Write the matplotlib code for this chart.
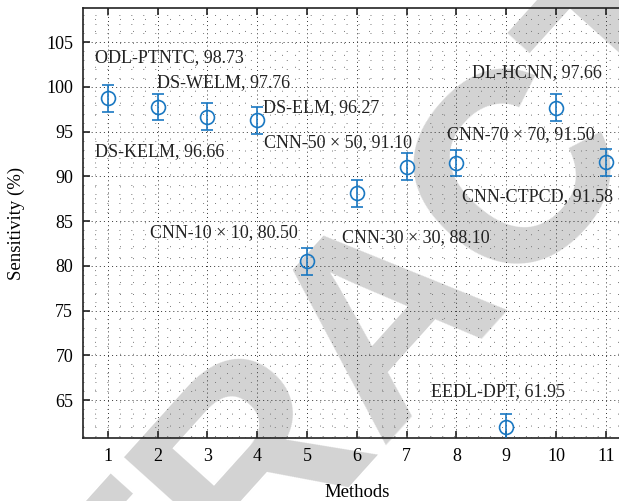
import matplotlib
matplotlib.use('Agg')
import matplotlib.pyplot as plt
from matplotlib.ticker import MultipleLocator

plt.rcParams['font.family'] = ['Liberation Serif', 'DejaVu Serif']

# ── data ───────────────────────────────────
methods = list(range(1, 12))
sensitivity = [98.73, 97.76, 96.66, 96.27, 80.50, 88.10,
               91.10, 91.50, 61.95, 97.66, 91.58]
err = [1.5] * 11
names = ['ODL-PTNTC', 'DS-WELM', 'DS-KELM', 'DS-ELM', 'CNN-10 × 10',
         'CNN-30 × 30', 'CNN-50 × 50', 'CNN-70 × 70', 'EEDL-DPT',
         'DL-HCNN', 'CNN-CTPCD']

# where each label sits (data coords, left edge / vertical centre)
label_xy = [(0.75, 103.3), (1.99, 100.5), (0.75, 92.8), (4.12, 97.7),
            (1.85, 83.7), (5.71, 83.1), (4.14, 93.8), (7.82, 94.7),
            (7.48, 65.9), (8.32, 101.6), (8.12, 87.7)]

blue = '#1a78c2'

fig = plt.figure(figsize=(6.19, 5.01), dpi=100)
ax = fig.add_axes([0.134, 0.1257, 0.885, 0.858])
ax.set_facecolor('none')

# big watermark behind the axes
fig.text(0.715, 0.275, 'RETRACTED', fontsize=195, fontweight='bold',
         family='Liberation Sans', color='#d3d3d3', rotation=48,
         rotation_mode='anchor', ha='center', va='baseline', zorder=-1)

ax.errorbar(methods, sensitivity, yerr=err, fmt='o', color=blue,
            mfc='none', mec=blue, ms=10, mew=1.2, elinewidth=1.2,
            capsize=4, capthick=1.2, zorder=3)

for n, v, (lx, ly) in zip(names, sensitivity, label_xy):
    ax.text(lx, ly, f'{n}, {v:.2f}', fontsize=13, ha='left', va='center',
            color='#222222', zorder=4)

ax.set_xlim(0.5, 11.5)
ax.set_ylim(60.75, 108.8)
ax.set_xticks(methods)
ax.set_yticks(range(65, 106, 5))
ax.xaxis.set_minor_locator(MultipleLocator(0.25))
ax.yaxis.set_minor_locator(MultipleLocator(1))

# dotted grid: dense on major lines, sparse on minor ones
ax.grid(True, which='major', linestyle=(0, (1, 3.2)), color='#333333',
        linewidth=0.7)
ax.grid(True, which='minor', linestyle=(0, (1, 11.3)), color='#777777',
        linewidth=0.7)
ax.set_axisbelow(True)

ax.tick_params(which='major', direction='in', length=5, width=1.2,
               top=True, right=False, labelsize=13, color='#222222',
               pad=7)
ax.tick_params(which='minor', length=0)
for side in ['left', 'bottom', 'top']:
    ax.spines[side].set_linewidth(1.2)
    ax.spines[side].set_color('#222222')
ax.spines['right'].set_visible(False)

ax.set_xlabel('Methods', fontsize=13.5, labelpad=14)
ax.set_ylabel('Sensitivity (%)', fontsize=13.5, labelpad=15)

plt.savefig('out.png', dpi=100, facecolor='white')
